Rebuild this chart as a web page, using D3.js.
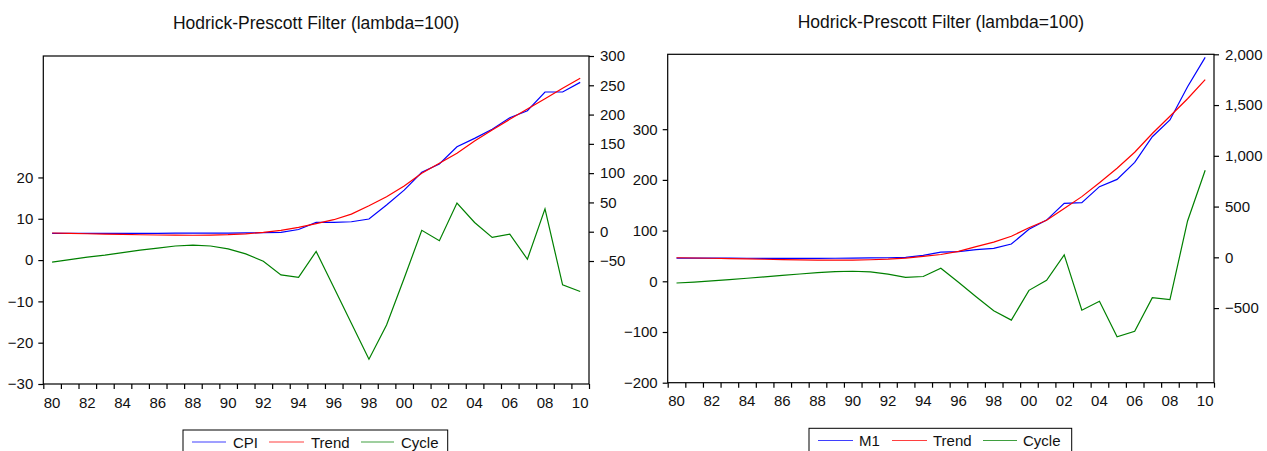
<!DOCTYPE html>
<html>
<head>
<meta charset="utf-8">
<script src="https://cdn.jsdelivr.net/npm/d3@7"></script>
<style>
  html, body { margin: 0; padding: 0; background: #fff; }
  svg { display: block; font-family: "Liberation Sans", Arial, sans-serif; }
</style>
</head>
<body>
<svg id="chart" width="1267" height="451"></svg>
<script>
// ---------------- data ----------------
const years = d3.range(1980, 2011);

const cpi = [-2.7,-2.8,-2.8,-2.9,-2.9,-2.8,-2.7,-2.5,-2.4,-2.4,-2.4,-2.1,-1.5,-1.0,3.8,16,16,17,21.7,45.6,71,101.4,115.6,145,159.4,174.8,194.6,206.6,238.5,238.5,255];
const cpiTrend = [-2.2,-2.9,-3.5,-4.1,-4.7,-5.2,-5.6,-5.9,-6.0,-5.8,-5.1,-3.6,-1.2,2.4,7.5,13.9,20.5,30,44.4,59.8,78,99.7,116.8,133.9,154.9,173.6,191.9,209.5,227,244.8,261.9];
const cpiCycle = [-0.5,0.1,0.7,1.2,1.8,2.4,2.9,3.4,3.6,3.4,2.7,1.5,-0.3,-3.6,-4.2,2.1,-6.6,-15.3,-24.0,-15.7,-4.4,7.2,4.7,13.8,9.1,5.5,6.3,0.2,12.4,-6.0,-7.6];

const m1 = [-7.4,-8,-8.2,-8.6,-9,-10.2,-10.4,-10.6,-10,-9,-7.2,-5.5,-4,0,20,52,56,76,89,131,276,367,532,538,696,768,936,1188,1353,1681,1970];
const m1Trend = [-4,-6.5,-9,-12,-15,-19,-22,-25,-27,-28,-27,-24,-18,-8,10,28,58,106,150,207,292,365,482,598,735,877,1035,1220,1390,1562,1750];
const m1Cycle = [-3.4,-1.5,0.8,3.4,6,8.8,11.6,14.4,17,19,19.8,18.5,14,7.9,9.5,25.6,-2,-30.4,-58.2,-76.5,-17.8,2,52,-57,-39.4,-109.3,-98.6,-32.3,-36.3,119,219];

const titleText = "Hodrick-Prescott Filter (lambda=100)";
const cpiLegend = ["CPI", "Trend", "Cycle"];
const m1Legend = ["M1", "Trend", "Cycle"];
const cpiLeftTicks = [-30, -20, -10, 0, 10, 20];
const cpiRightTicks = [-50, 0, 50, 100, 150, 200, 250, 300];
const m1LeftTicks = [-200, -100, 0, 100, 200, 300];
const m1RightTicks = [-500, 0, 500, 1000, 1500, 2000];

// ---------------- drawing ----------------
const svg = d3.select("#chart");
const COLORS = ["#0000ff", "#ff0000", "#008000"];
const FONT = 15;

function panel(cfg) {
  const g = svg.append("g");
  const x = d3.scaleBand().domain(years).range([cfg.x0, cfg.x1]).padding(0);
  const yL = d3.scaleLinear().domain(cfg.leftDomain).range([cfg.bottom, cfg.top]);
  const yR = d3.scaleLinear().domain(cfg.rightDomain).range([cfg.bottom, cfg.top]);
  const cx = d => x(d) + x.bandwidth() / 2;

  // title
  g.append("text")
    .attr("x", (cfg.x0 + cfg.x1) / 2)
    .attr("y", cfg.titleY)
    .attr("text-anchor", "middle")
    .attr("font-size", 17.5)
    .attr("fill", "#111")
    .text(titleText);

  // frame
  g.append("rect")
    .attr("x", cfg.x0).attr("y", cfg.top)
    .attr("width", cfg.x1 - cfg.x0).attr("height", cfg.bottom - cfg.top)
    .attr("fill", "none").attr("stroke", "#000").attr("stroke-width", 1.2);

  // left axis (cycle)
  const la = g.append("g").attr("transform", `translate(${cfg.x0},0)`)
    .call(d3.axisLeft(yL).tickValues(cfg.leftTicks).tickSize(5).tickSizeOuter(0).tickPadding(5).tickFormat(d3.format("d")));
  // right axis (series)
  const ra = g.append("g").attr("transform", `translate(${cfg.x1},0)`)
    .call(d3.axisRight(yR).tickValues(cfg.rightTicks).tickSize(5).tickSizeOuter(0).tickPadding(6).tickFormat(d3.format(",")));
  // bottom axis: tick marks at band boundaries
  const boundaries = years.map(d => x(d)).concat([cfg.x1]);
  const xb = d3.scaleLinear().domain([cfg.x0, cfg.x1]).range([cfg.x0, cfg.x1]);
  const ba = g.append("g").attr("transform", `translate(0,${cfg.bottom})`)
    .call(d3.axisBottom(xb).tickValues(boundaries).tickSize(5).tickSizeOuter(0).tickFormat(""));
  // bottom labels at band centres of even years
  const bl = g.append("g").attr("transform", `translate(0,${cfg.bottom})`)
    .call(d3.axisBottom(x).tickValues(years.filter(y => y % 2 === 0)).tickSize(0).tickPadding(13)
      .tickFormat(y => String(y % 100).padStart(2, "0")));
  bl.select(".domain").remove();

  [la, ra, ba, bl].forEach(a => {
    a.selectAll(".domain").attr("stroke", "#000");
    a.selectAll(".tick line").attr("stroke", "#000").attr("stroke-width", 1.2);
    a.selectAll("text").attr("font-size", FONT).attr("fill", "#111")
      .attr("font-family", '"Liberation Sans", Arial, sans-serif');
  });
  la.select(".domain").remove();
  ra.select(".domain").remove();
  ba.select(".domain").remove();

  // lines
  const lineR = d3.line().x((d, i) => cx(years[i])).y(d => yR(d));
  const lineL = d3.line().x((d, i) => cx(years[i])).y(d => yL(d));
  g.append("path").datum(cfg.cycle).attr("d", lineL).attr("fill", "none").attr("stroke", COLORS[2]).attr("stroke-width", 1.2);
  g.append("path").datum(cfg.series).attr("d", lineR).attr("fill", "none").attr("stroke", COLORS[0]).attr("stroke-width", 1.2);
  g.append("path").datum(cfg.trend).attr("d", lineR).attr("fill", "none").attr("stroke", COLORS[1]).attr("stroke-width", 1.2);

  // legend
  const lg = g.append("g");
  lg.append("rect")
    .attr("x", cfg.legX0).attr("y", cfg.legTop)
    .attr("width", cfg.legX1 - cfg.legX0).attr("height", 40)
    .attr("fill", "#fff").attr("stroke", "#000").attr("stroke-width", 1);
  cfg.legend.forEach((name, i) => {
    const it = cfg.legItems[i];
    lg.append("line")
      .attr("x1", it[0]).attr("x2", it[1])
      .attr("y1", cfg.legLineY).attr("y2", cfg.legLineY)
      .attr("stroke", COLORS[i]).attr("stroke-width", 1.2).attr("opacity", 0.75);
    lg.append("text")
      .attr("x", it[2]).attr("y", cfg.legTextY)
      .attr("font-size", FONT).attr("fill", "#111")
      .text(name);
  });
}

panel({
  x0: 43.3, x1: 589, top: 56, bottom: 384,
  leftDomain: [-30, 49.4], rightDomain: [-260, 300],
  leftTicks: cpiLeftTicks, rightTicks: cpiRightTicks,
  series: cpi, trend: cpiTrend, cycle: cpiCycle,
  titleY: 29,
  legend: cpiLegend,
  legX0: 183, legX1: 447.7, legTop: 430, legLineY: 442, legTextY: 447.5,
  legItems: [[192, 226, 233], [269, 304, 311], [361, 394, 401]]
});

panel({
  x0: 667.7, x1: 1214, top: 54.3, bottom: 382.7,
  leftDomain: [-200, 447.7], rightDomain: [-1235, 2000],
  leftTicks: m1LeftTicks, rightTicks: m1RightTicks,
  series: m1, trend: m1Trend, cycle: m1Cycle,
  titleY: 27.5,
  legend: m1Legend,
  legX0: 809, legX1: 1071.7, legTop: 428.3, legLineY: 440.5, legTextY: 445.5,
  legItems: [[818, 853, 859], [892, 927, 933], [983, 1017, 1023]]
});
</script>
</body>
</html>
